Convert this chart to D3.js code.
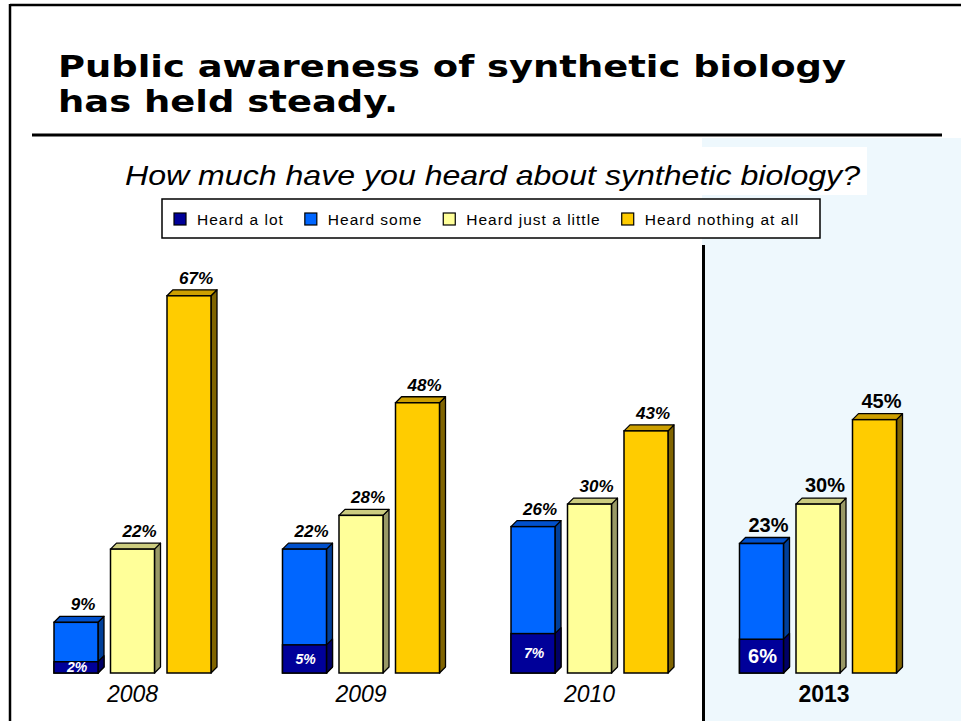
<!DOCTYPE html>
<html>
<head>
<meta charset="utf-8">
<script src="https://cdn.jsdelivr.net/npm/d3@7"></script>
<style>
  html, body { margin: 0; padding: 0; background: #ffffff; }
  svg { display: block; }
</style>
</head>
<body>
<script>
// ---- data ----
const years = ["2008", "2009", "2010", "2013"];
const heardALot = [2, 5, 7, 6];
const heardSome = [9, 22, 26, 23];
const heardJustALittle = [22, 28, 30, 30];
const heardNothing = [67, 48, 43, 45];
const seriesNames = ["Heard a lot", "Heard some", "Heard just a little", "Heard nothing at all"];
const barKeys = ["some", "little", "nothing"];
const titleLines = ["Public awareness of synthetic biology", "has held steady."];
const subtitle = "How much have you heard about synthetic biology?";

// ---- styles ----
const W = 961, H = 721;
const front = { lot: "#000099", some: "#0066ff", little: "#ffff99", nothing: "#ffcc00" };
const side  = { lot: "#000066", some: "#003f99", little: "#999966", nothing: "#806400" };
const topC  = { lot: "#000080", some: "#0050cc", little: "#cccc80", nothing: "#cc9f00" };
const depth = 6;

const svg = d3.select("body").append("svg").attr("width", W).attr("height", H);

// background panel for 2013
svg.append("rect").attr("x", 702).attr("y", 138).attr("width", W - 702).attr("height", H - 138)
  .attr("fill", "#eef8fd");

// frame
svg.append("line").attr("x1", 10).attr("x2", W).attr("y1", 5).attr("y2", 5)
  .attr("stroke", "#000").attr("stroke-width", 2.5);
svg.append("line").attr("x1", 10).attr("x2", 10).attr("y1", 4).attr("y2", H)
  .attr("stroke", "#000").attr("stroke-width", 2.5);

// title
const titleWidths = [788, 340];
const titleBaselines = [77, 112];
titleLines.forEach((line, i) => {
  svg.append("text").attr("x", 58).attr("y", titleBaselines[i])
    .attr("font-family", "DejaVu Sans").attr("font-weight", "bold").attr("font-size", 30)
    .attr("textLength", titleWidths[i]).attr("lengthAdjust", "spacingAndGlyphs")
    .text(line);
});
svg.append("line").attr("x1", 32).attr("x2", 942).attr("y1", 135).attr("y2", 135)
  .attr("stroke", "#000").attr("stroke-width", 3);

// subtitle with white backing
svg.append("rect").attr("x", 118).attr("y", 147).attr("width", 867 - 118).attr("height", 48).attr("fill", "#fff");
svg.append("text").attr("x", 125).attr("y", 185)
  .attr("font-family", "Liberation Sans, Arial, sans-serif").attr("font-style", "italic").attr("font-size", 28)
  .attr("textLength", 735).attr("lengthAdjust", "spacingAndGlyphs")
  .text(subtitle);

// legend
const lg = svg.append("g");
lg.append("rect").attr("x", 162).attr("y", 199).attr("width", 658).attr("height", 39)
  .attr("fill", "#fff").attr("stroke", "#000").attr("stroke-width", 1.5);
const legendColors = [front.lot, front.some, front.little, front.nothing];
let lx = 174;
seriesNames.forEach((name, i) => {
  lg.append("rect").attr("x", lx).attr("y", 213).attr("width", 12).attr("height", 12)
    .attr("fill", legendColors[i]).attr("stroke", "#000").attr("stroke-width", 1.2);
  const t = lg.append("text").attr("x", lx + 23).attr("y", 225)
    .attr("font-family", "Liberation Sans, Arial, sans-serif").attr("font-size", 15.5)
    .attr("letter-spacing", 1)
    .text(name);
  lx += 23 + t.node().getComputedTextLength() + 21;
});

// divider line
svg.append("line").attr("x1", 703.5).attr("x2", 703.5).attr("y1", 245).attr("y2", H)
  .attr("stroke", "#000").attr("stroke-width", 3);

// scales
const y = d3.scaleLinear().domain([0, 100]).range([673, 110]);
const xGroup = d3.scaleBand().domain(years).range([40, 954]).paddingInner(0).paddingOuter(0);
const xBar = d3.scaleBand().domain(barKeys).range([14, 171]).paddingInner(12.5 / 56.5).paddingOuter(0);
const bw = xBar.bandwidth();

function bar3d(g, x, v0, v1, key, withTop) {
  const yT = y(v1), yB = y(v0);
  g.append("polygon")
    .attr("points", [[x + bw, yT], [x + bw + depth, yT - depth], [x + bw + depth, yB - depth], [x + bw, yB]].join(" "))
    .attr("fill", side[key]).attr("stroke", "#000").attr("stroke-width", 1.3).attr("stroke-linejoin", "round");
  if (withTop) {
    g.append("polygon")
      .attr("points", [[x, yT], [x + depth, yT - depth], [x + bw + depth, yT - depth], [x + bw, yT]].join(" "))
      .attr("fill", topC[key]).attr("stroke", "#000").attr("stroke-width", 1.3).attr("stroke-linejoin", "round");
  }
  g.append("rect").attr("x", x).attr("y", yT).attr("width", bw).attr("height", yB - yT)
    .attr("fill", front[key]).attr("stroke", "#000").attr("stroke-width", 1.5);
}

years.forEach((yr, i) => {
  const g = svg.append("g");
  const gx = xGroup(yr);
  const is2013 = yr === "2013";
  const vals = { some: heardSome[i], little: heardJustALittle[i], nothing: heardNothing[i] };
  barKeys.forEach(k => {
    const x = gx + xBar(k);
    bar3d(g, x, 0, vals[k], k, true);
    if (k === "some") {
      bar3d(g, x, 0, heardALot[i], "lot", false);
      g.append("text")
        .attr("x", x + bw / 2 + 1)
        .attr("y", (y(0) + y(heardALot[i])) / 2 + (is2013 ? 7 : 5))
        .attr("text-anchor", "middle").attr("fill", "#fff")
        .attr("font-family", "Liberation Sans, Arial, sans-serif").attr("font-weight", "bold")
        .attr("font-style", is2013 ? "normal" : "italic")
        .attr("font-size", is2013 ? 20 : 14)
        .text(heardALot[i] + "%");
    }
    g.append("text")
      .attr("x", x + bw / 2 + 7)
      .attr("y", y(vals[k]) - 12)
      .attr("text-anchor", "middle").attr("fill", "#000")
      .attr("font-family", "Liberation Sans, Arial, sans-serif").attr("font-weight", "bold")
      .attr("font-style", is2013 ? "normal" : "italic")
      .attr("font-size", is2013 ? 20 : 17)
      .text(vals[k] + "%");
  });
  g.append("text")
    .attr("x", gx + xBar("little") + bw / 2 + (is2013 ? 6 : 0))
    .attr("y", 702)
    .attr("text-anchor", "middle").attr("fill", "#000")
    .attr("font-family", "Liberation Sans, Arial, sans-serif")
    .attr("font-weight", is2013 ? "bold" : "normal")
    .attr("font-style", is2013 ? "normal" : "italic")
    .attr("font-size", 23)
    .text(yr);
});
</script>
</body>
</html>
